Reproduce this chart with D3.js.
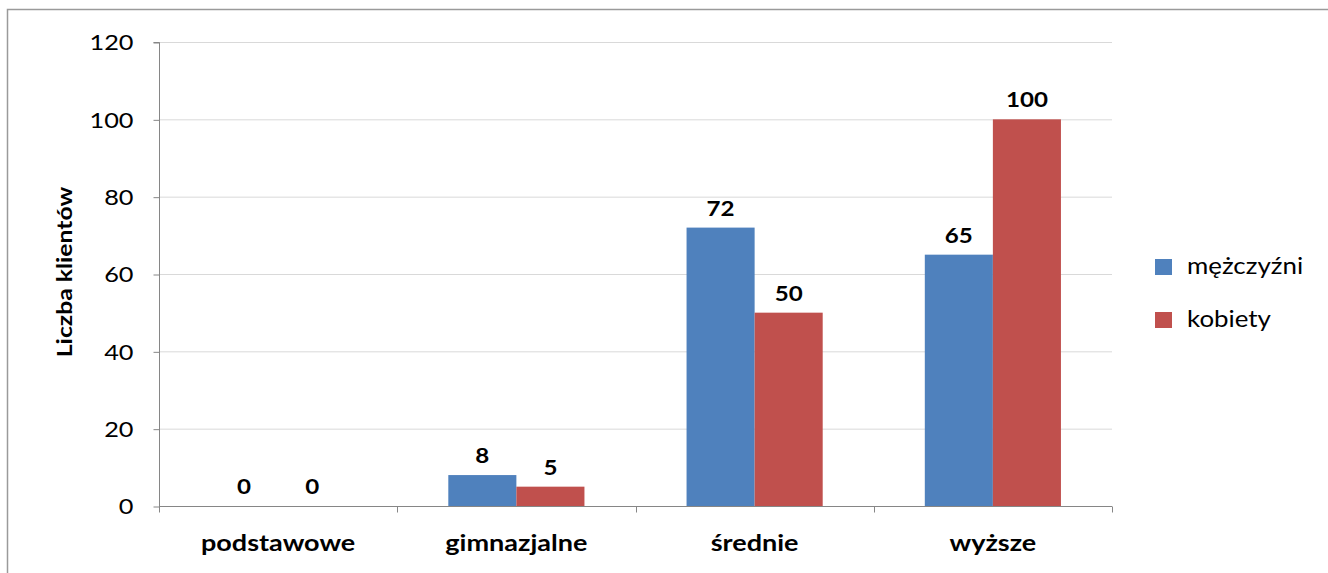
<!DOCTYPE html>
<html><head><meta charset="utf-8">
<script src="https://cdn.jsdelivr.net/npm/d3@7"></script>
<style>
html,body{margin:0;padding:0;background:#fff;}
svg{display:block;}
text{font-family:Lato,"Open Sans",sans-serif;fill:#000;}
</style></head>
<body>
<script>
const categories = ["podstawowe", "gimnazjalne", "średnie", "wyższe"];
const seriesNames = ["mężczyźni", "kobiety"];
const men = [0, 8, 72, 65];
const women = [0, 5, 50, 100];
const yTicks = [0, 20, 40, 60, 80, 100, 120];
const colors = ["#4F81BD", "#C0504D"];
const yTitle = "Liczba klientów";

(function () {
const W = 1328, H = 573;
const SX = 1.15; // horizontal text stretch of the original picture
const svg = d3.select("body").append("svg").attr("width", W).attr("height", H);

svg.append("rect").attr("x", 7.5).attr("y", 9.5).attr("width", W + 20).attr("height", H + 20)
  .attr("fill", "#fff").attr("stroke", "#9a9a9a").attr("stroke-width", 1.5);

const pLeft = 159, pRight = 1112, pTop = 42, pBottom = 506;
const x = d3.scaleBand().domain(categories).range([pLeft, pRight]).paddingInner(0).paddingOuter(0);
const inner = d3.scaleBand().domain(seriesNames).range([0, x.bandwidth()]).paddingInner(0).paddingOuter(0.75);
const y = d3.scaleLinear().domain([0, 120]).range([pBottom, pTop]);

function stext(tx, ty) { return `translate(${tx},${ty}) scale(${SX},1)`; }

// gridlines
svg.append("g").selectAll("line").data(yTicks.filter(d => d > 0)).join("line")
  .attr("x1", pLeft).attr("x2", pRight).attr("y1", d => y(d) + 0.5).attr("y2", d => y(d) + 0.5)
  .attr("stroke", "#d9d9d9").attr("stroke-width", 1);

// bars
const data = [men, women];
const groups = svg.append("g").selectAll("g").data(categories).join("g")
  .attr("transform", d => `translate(${x(d)},0)`);
groups.selectAll("rect").data((c, i) => seriesNames.map((s, j) => ({ s, j, v: data[j][i] }))).join("rect")
  .attr("x", d => inner(d.s)).attr("width", inner.bandwidth())
  .attr("y", d => y(d.v)).attr("height", d => y(0) - y(d.v))
  .attr("fill", d => colors[d.j]);

// value labels
groups.selectAll("text").data((c, i) => seriesNames.map((s, j) => ({ s, j, v: data[j][i] }))).join("text")
  .attr("transform", d => stext(inner(d.s) + inner.bandwidth() / 2, y(d.v) - 12))
  .attr("text-anchor", "middle").attr("font-weight", "bold").attr("font-size", 21)
  .text(d => d.v);

// y axis
const yAxis = d3.axisLeft(y).tickValues(yTicks).tickSize(6).tickPadding(14);
const gy = svg.append("g").attr("transform", `translate(${pLeft + 0.5},0)`).call(yAxis);
gy.select(".domain").attr("stroke", "#868686").attr("d", `M-6,${pTop + 0.5}H0V${pBottom + 0.5}`);
gy.selectAll(".tick line").attr("stroke", "#868686").attr("transform", "translate(0,0.5)");
gy.selectAll(".tick text").attr("font-size", 22).attr("fill", "#000")
  .attr("font-family", "Lato,'Open Sans',sans-serif").attr("dy", "0.35em")
  .attr("transform", `scale(${SX},1)`)
  .attr("x", -26 / SX);

// x axis
const gx = svg.append("g").attr("transform", `translate(0,${pBottom + 0.5})`);
gx.append("line").attr("x1", pLeft).attr("x2", pRight).attr("stroke", "#868686");
gx.selectAll("line.t").data(categories.concat([null])).join("line").attr("class", "t")
  .attr("x1", (d, i) => Math.round(pLeft + i * x.step()) + 0.5)
  .attr("x2", (d, i) => Math.round(pLeft + i * x.step()) + 0.5)
  .attr("y1", 0).attr("y2", 6).attr("stroke", "#868686");
gx.selectAll("text").data(categories).join("text")
  .attr("transform", d => stext(x(d) + x.bandwidth() / 2, 44))
  .attr("text-anchor", "middle").attr("font-weight", "bold").attr("font-size", 23.5)
  .text(d => d);

// y title
svg.append("text").attr("transform", `translate(72,272) rotate(-90) scale(${SX},1)`)
  .attr("text-anchor", "middle").attr("font-weight", "bold").attr("font-size", 21.5)
  .text(yTitle);

// legend
const lg = svg.append("g").attr("transform", "translate(1155,259)");
const li = lg.selectAll("g").data(seriesNames).join("g").attr("transform", (d, i) => `translate(0,${i * 53})`);
li.append("rect").attr("width", 17).attr("height", 16).attr("fill", (d, i) => colors[i]);
li.append("text").attr("transform", stext(32, 15)).attr("font-size", 22.5).text(d => d);
})();
</script>
</body></html>
